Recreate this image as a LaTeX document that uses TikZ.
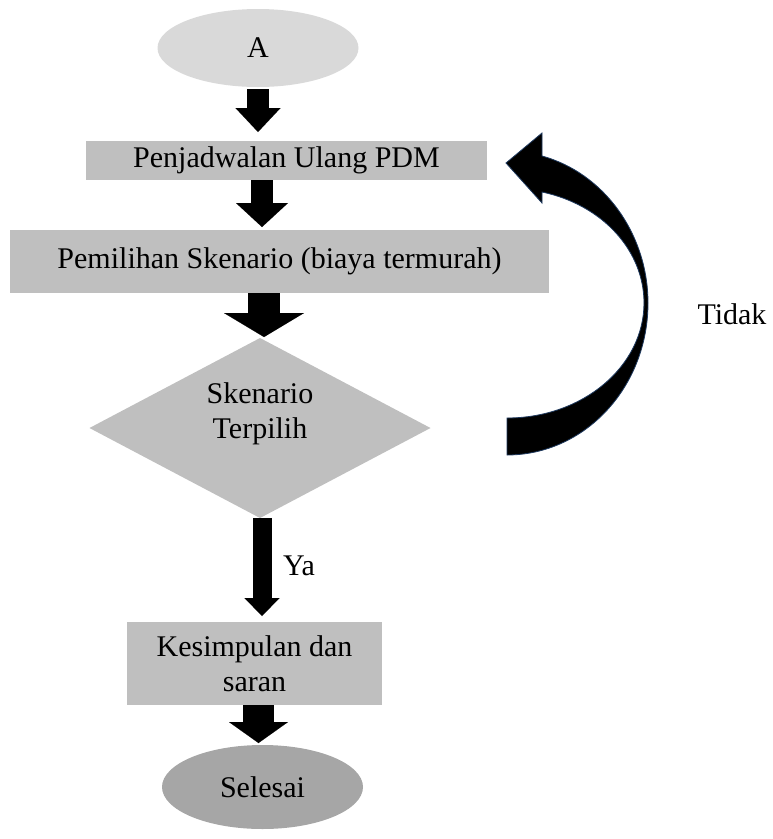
\documentclass[tikz,border=0pt]{standalone}
\usepackage{fontspec}
\setmainfont{Liberation Serif}
\usetikzlibrary{shapes.geometric,arrows.meta}
\definecolor{startgray}{HTML}{D9D9D9}
\definecolor{boxgray}{HTML}{BFBFBF}
\definecolor{endgray}{HTML}{A6A6A6}
\definecolor{loopedge}{HTML}{1F3A5F}
\begin{document}
\begin{tikzpicture}[x=1pt,y=-1pt,
  every node/.style={font=\fontsize{30}{35}\selectfont, inner sep=0pt, outer sep=0pt},
  terminal/.style={ellipse, fill=#1},
  procbox/.style={rectangle, fill=boxgray},
  blockarrow/.style n args={3}{draw=black, line width=#1,
    -{Triangle[width=#2, length=#3, line width=0.01pt]}}]
  \useasboundingbox (0,0) rectangle (772,839);

  % nodes
  \node[terminal=startgray, minimum width=201pt, minimum height=78pt] (A) at (258,48) {A};
  \node[procbox, minimum width=401pt, minimum height=39pt] (P) at (286.5,160.5) {Penjadwalan Ulang PDM};
  \node[procbox, minimum width=539pt, minimum height=63pt] (S) at (279.5,261.5) {Pemilihan Skenario (biaya termurah)};
  \node[diamond, fill=boxgray, minimum width=341pt, minimum height=180pt] (D) at (260,428) {};
  \node[align=center] (Dt) at (260,414) {Skenario\\Terpilih};
  \node[procbox, minimum width=255pt, minimum height=83pt, align=center] (K) at (254.5,663.5) {Kesimpulan dan\\saran};
  \node[terminal=endgray, minimum width=201pt, minimum height=84pt] (E) at (262.5,787) {Selesai};
  \node[anchor=west] (ya) at (283,566) {Ya};
  \node (tidak) at (732,314) {Tidak};

  % straight block arrows
  \draw[blockarrow={22pt}{45pt}{24pt}, shorten >=9pt] ([yshift=-2pt]A.south) -- (A.south |- P.north);
  \draw[blockarrow={22pt}{52pt}{24pt}, shorten >=3pt] ([xshift=2pt]D.north |- P.south) -- ([xshift=2pt]D.north |- S.north);
  \draw[blockarrow={32pt}{80pt}{24pt}, shorten >=1pt] ([xshift=4pt]D.north |- S.south) -- ([xshift=4pt]D.north);
  \draw[blockarrow={19pt}{35pt}{18pt}, shorten >=6pt] ([xshift=2pt]D.south) -- ([xshift=2pt]D.south |- K.north);
  \draw[blockarrow={31pt}{59pt}{21pt}, shorten >=2pt] ([xshift=4pt]K.south) -- ([xshift=4pt]K.south |- E.north);

  % curved return arrow from the decision back to the rescheduling step
  \fill[black, draw=loopedge, line width=0.8pt]
    (507,455) .. controls (585,455) and (648,387) .. (648,303)
    .. controls (648,234) and (604,173) .. (542,156)
    -- (542,133) -- (506,163) -- (542,203) -- (542,192)
    .. controls (603,205) and (644,251) .. (644,303)
    .. controls (644,366) and (583,418) .. (507,418) -- cycle;
\end{tikzpicture}
\end{document}
